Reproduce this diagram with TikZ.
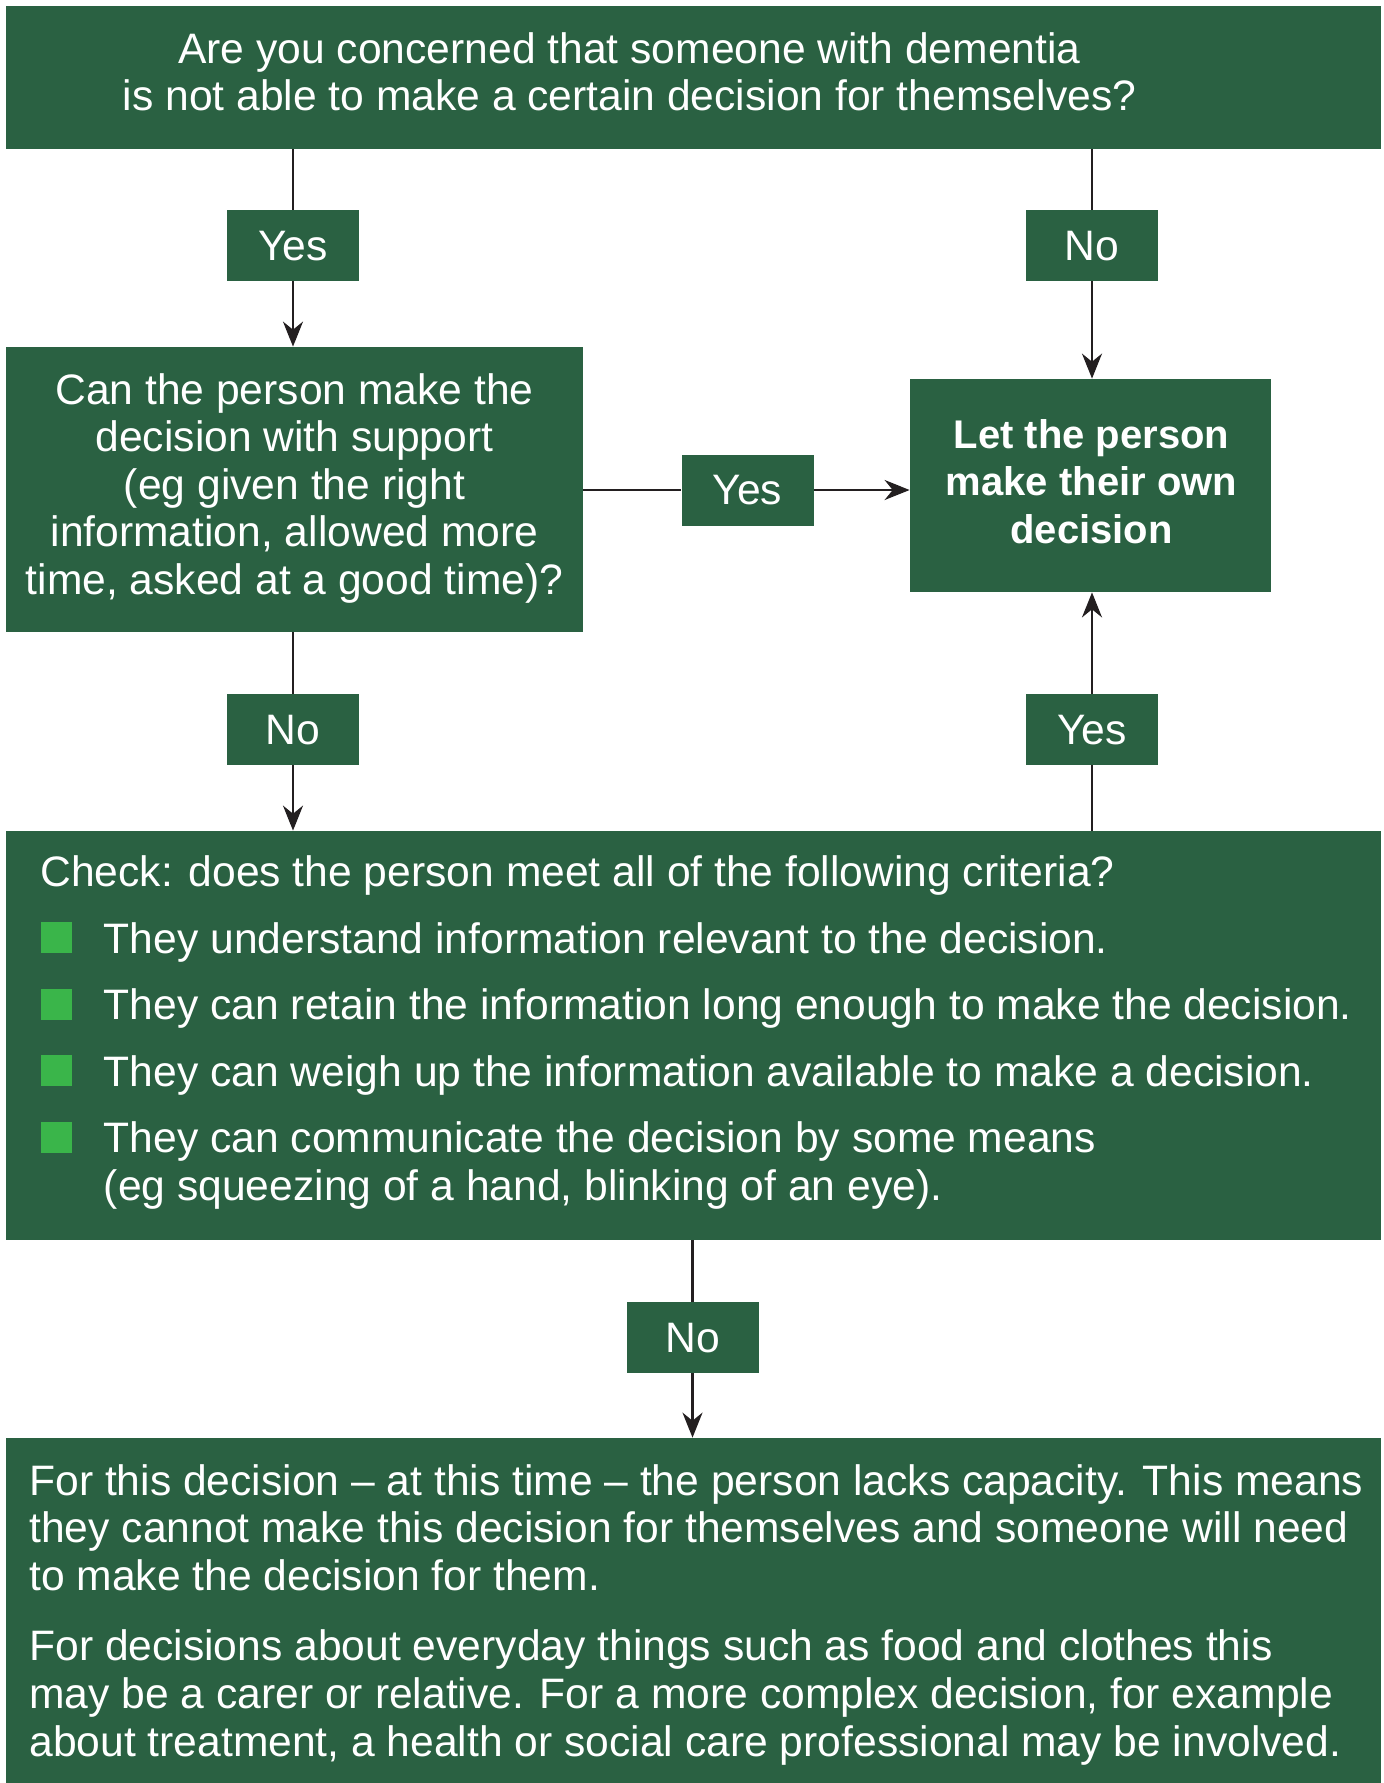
\documentclass[tikz,border=0pt]{standalone}
\usepackage{fontspec}
\setmainfont{Liberation Sans}
\usetikzlibrary{arrows.meta}
\definecolor{dgreen}{HTML}{2A6142}
\definecolor{bgreen}{HTML}{3AB54A}
\definecolor{ink}{HTML}{231F20}
\newcommand\mylines[2][c]{\begin{tabular}[t]{@{}#1@{}}#2\end{tabular}}
\begin{document}
\begin{tikzpicture}[x=0.5pt,y=-0.5pt,
  box/.style={fill=dgreen, draw=none, inner sep=0pt},
  txt/.style={text=white, inner sep=0pt, font=\fontsize{21.3}{23.8}\selectfont},
  btxt/.style={text=white, inner sep=0pt, font=\fontsize{20}{23.8}\selectfont\bfseries},
  lbl/.style={fill=dgreen, text=white, inner sep=0pt, minimum width=66pt, minimum height=35.5pt, text depth=0pt, font=\fontsize{21.3}{23.8}\selectfont},
  ln/.style={draw=ink, line width=1.2pt},
  arr/.style={draw=ink, line width=1.2pt, -{Stealth[length=12.5pt,width=10pt]}}
]
\useasboundingbox (0,0) rectangle (1384,1783);
% boxes
\node[box, minimum width=687.5pt, minimum height=71.5pt] (q1) at (693.5,77.5) {};
\node[txt, anchor=base] (t1) at (629.5,63) {\mylines{Are you concerned that someone with dementia\\is not able to make a certain decision for themselves?}};

\node[box, minimum width=288.5pt, minimum height=142.5pt] (q2) at (294.5,489.5) {};
\node[txt, anchor=base] (t2) at (294.5,404) {\mylines{Can the person make the\\decision with support\\(eg given the right\\information, allowed more\\time, asked at a good time)?}};

\node[box, minimum width=180.5pt, minimum height=106.5pt] (q3) at (1090.5,485.5) {};
\node[btxt, anchor=base] (t3) at (1091.5,448) {\mylines{Let the person\\make their own\\decision}};

\node[box, minimum width=687.5pt, minimum height=204.5pt] (chk) at (693.5,1035.5) {};
\node[txt, anchor=base west] (tc) at (40,886) {Check: does the person meet all of the following criteria?};
\node[txt, anchor=base west] (ti) at (103.5,953) {\mylines[l]{They understand information relevant to the decision.\\[9.45pt]
They can retain the information long enough to make the decision.\\[9.45pt]
They can weigh up the information available to make a decision.\\[9.45pt]
They can communicate the decision by some means\\
(eg squeezing of a hand, blinking of an eye).}};
\foreach \b in {953,1019.5,1086,1152.5}{
  \fill[bgreen] (41,\b-31) rectangle (72,\b);
}

\node[box, minimum width=687.5pt, minimum height=172.5pt] (fin) at (693.5,1610.5) {};
\node[txt, anchor=base west] (tf) at (29,1495) {\mylines[l]{For this decision -- at this time -- the person lacks capacity. This means\\
they cannot make this decision for themselves and someone will need\\
to make the decision for them.\\[11.5pt]
For decisions about everyday things such as food and clothes this\\
may be a carer or relative. For a more complex decision, for example\\
about treatment, a health or social care professional may be involved.}};

% labels
\node[lbl] (yes1) at (293,245.5) {Yes};
\node[lbl] (no1) at (1092,245.5) {No};
\node[lbl] (yes2) at (747.5,490) {Yes};
\node[lbl] (no2) at (293,729.5) {No};
\node[lbl] (yes3) at (1092,729.5) {Yes};
\node[lbl] (no3) at (692.5,1337.5) {No};

% connectors
\draw[ln] (yes1.north |- q1.south) -- (yes1.north);
\draw[arr] (yes1.south) -- (yes1.south |- q2.north);
\draw[ln] (no1.north |- q1.south) -- (no1.north);
\draw[arr] (no1.south) -- (no1.south |- q3.north);
\draw[ln] (yes2.west -| q2.east) -- (yes2.west);
\draw[arr] (yes2.east) -- (yes2.east -| q3.west);
\draw[ln] (no2.north |- q2.south) -- (no2.north);
\draw[arr] (no2.south) -- (no2.south |- chk.north);
\draw[ln] (yes3.south |- chk.north) -- (yes3.south);
\draw[arr] (yes3.north) -- (yes3.north |- q3.south);
\draw[ln] (no3.north |- chk.south) -- (no3.north);
\draw[arr] (no3.south) -- (no3.south |- fin.north);
\end{tikzpicture}
\end{document}
